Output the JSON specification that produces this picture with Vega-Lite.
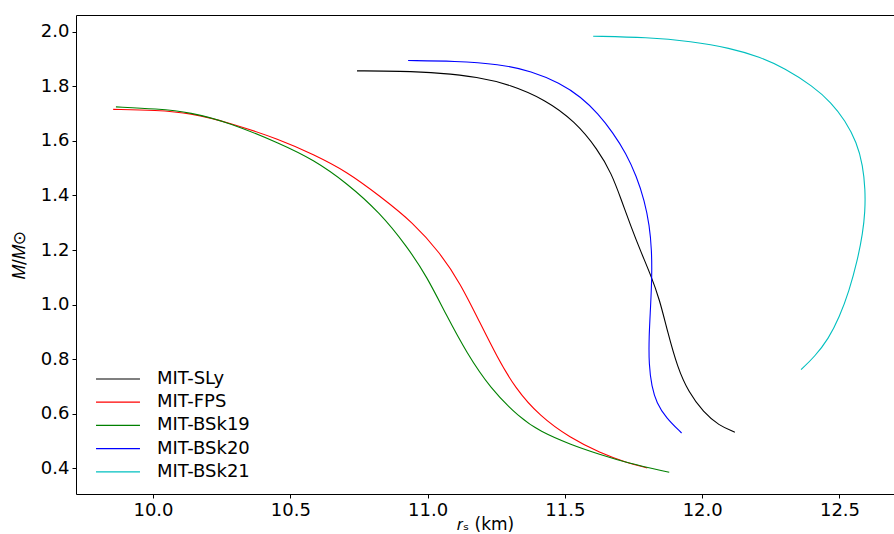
{
  "$schema": "https://vega.github.io/schema/vega-lite/v6.json",
  "width": 818,
  "height": 479,
  "autosize": "none",
  "padding": {"left": 76, "top": 15, "right": 0, "bottom": 40},
  "background": "white",
  "config": {
    "view": {"stroke": null},
    "font": "DejaVu Sans",
    "axis": {
      "grid": false,
      "domainColor": "#000000",
      "domainWidth": 1,
      "tickColor": "#000000",
      "tickSize": 4,
      "tickWidth": 1,
      "labelColor": "#000000",
      "labelFont": "DejaVu Sans",
      "labelFontSize": 18,
      "titleFont": "DejaVu Sans",
      "titleFontSize": 17,
      "titleFontWeight": "normal",
      "titleColor": "#000000"
    },
    "legend": {
      "labelFont": "DejaVu Sans",
      "labelFontSize": 18,
      "labelColor": "#000000"
    }
  },
  "resolve": {"axis": {"x": "independent"}},
  "data": {
    "values": [
      {"eos": "MIT-SLy", "i": 0, "r": 10.743, "M": 1.856},
      {"eos": "MIT-SLy", "i": 1, "r": 10.900, "M": 1.855},
      {"eos": "MIT-SLy", "i": 2, "r": 11.050, "M": 1.848},
      {"eos": "MIT-SLy", "i": 3, "r": 11.180, "M": 1.834},
      {"eos": "MIT-SLy", "i": 4, "r": 11.300, "M": 1.806},
      {"eos": "MIT-SLy", "i": 5, "r": 11.428, "M": 1.751},
      {"eos": "MIT-SLy", "i": 6, "r": 11.537, "M": 1.671},
      {"eos": "MIT-SLy", "i": 7, "r": 11.620, "M": 1.568},
      {"eos": "MIT-SLy", "i": 8, "r": 11.670, "M": 1.480},
      {"eos": "MIT-SLy", "i": 9, "r": 11.705, "M": 1.385},
      {"eos": "MIT-SLy", "i": 10, "r": 11.741, "M": 1.285},
      {"eos": "MIT-SLy", "i": 11, "r": 11.776, "M": 1.195},
      {"eos": "MIT-SLy", "i": 12, "r": 11.812, "M": 1.110},
      {"eos": "MIT-SLy", "i": 13, "r": 11.845, "M": 1.019},
      {"eos": "MIT-SLy", "i": 14, "r": 11.874, "M": 0.900},
      {"eos": "MIT-SLy", "i": 15, "r": 11.910, "M": 0.770},
      {"eos": "MIT-SLy", "i": 16, "r": 11.950, "M": 0.680},
      {"eos": "MIT-SLy", "i": 17, "r": 12.005, "M": 0.605},
      {"eos": "MIT-SLy", "i": 18, "r": 12.060, "M": 0.558},
      {"eos": "MIT-SLy", "i": 19, "r": 12.119, "M": 0.533},

      {"eos": "MIT-FPS", "i": 0, "r": 9.855, "M": 1.715},
      {"eos": "MIT-FPS", "i": 1, "r": 10.013, "M": 1.712},
      {"eos": "MIT-FPS", "i": 2, "r": 10.135, "M": 1.702},
      {"eos": "MIT-FPS", "i": 3, "r": 10.280, "M": 1.666},
      {"eos": "MIT-FPS", "i": 4, "r": 10.4625, "M": 1.6045},
      {"eos": "MIT-FPS", "i": 5, "r": 10.584, "M": 1.550},
      {"eos": "MIT-FPS", "i": 6, "r": 10.705, "M": 1.488},
      {"eos": "MIT-FPS", "i": 7, "r": 10.827, "M": 1.397},
      {"eos": "MIT-FPS", "i": 8, "r": 10.948, "M": 1.300},
      {"eos": "MIT-FPS", "i": 9, "r": 11.045, "M": 1.190},
      {"eos": "MIT-FPS", "i": 10, "r": 11.118, "M": 1.080},
      {"eos": "MIT-FPS", "i": 11, "r": 11.191, "M": 0.933},
      {"eos": "MIT-FPS", "i": 12, "r": 11.252, "M": 0.811},
      {"eos": "MIT-FPS", "i": 13, "r": 11.318, "M": 0.695},
      {"eos": "MIT-FPS", "i": 14, "r": 11.409, "M": 0.591},
      {"eos": "MIT-FPS", "i": 15, "r": 11.519, "M": 0.512},
      {"eos": "MIT-FPS", "i": 16, "r": 11.628, "M": 0.457},
      {"eos": "MIT-FPS", "i": 17, "r": 11.725, "M": 0.421},
      {"eos": "MIT-FPS", "i": 18, "r": 11.800, "M": 0.402},

      {"eos": "MIT-BSk19", "i": 0, "r": 9.865, "M": 1.724},
      {"eos": "MIT-BSk19", "i": 1, "r": 10.013, "M": 1.717},
      {"eos": "MIT-BSk19", "i": 2, "r": 10.135, "M": 1.705},
      {"eos": "MIT-BSk19", "i": 3, "r": 10.280, "M": 1.666},
      {"eos": "MIT-BSk19", "i": 4, "r": 10.4625, "M": 1.590},
      {"eos": "MIT-BSk19", "i": 5, "r": 10.584, "M": 1.531},
      {"eos": "MIT-BSk19", "i": 6, "r": 10.705, "M": 1.446},
      {"eos": "MIT-BSk19", "i": 7, "r": 10.827, "M": 1.336},
      {"eos": "MIT-BSk19", "i": 8, "r": 10.924, "M": 1.214},
      {"eos": "MIT-BSk19", "i": 9, "r": 10.997, "M": 1.104},
      {"eos": "MIT-BSk19", "i": 10, "r": 11.070, "M": 0.958},
      {"eos": "MIT-BSk19", "i": 11, "r": 11.142, "M": 0.824},
      {"eos": "MIT-BSk19", "i": 12, "r": 11.227, "M": 0.695},
      {"eos": "MIT-BSk19", "i": 13, "r": 11.336, "M": 0.585},
      {"eos": "MIT-BSk19", "i": 14, "r": 11.409, "M": 0.536},
      {"eos": "MIT-BSk19", "i": 15, "r": 11.519, "M": 0.488},
      {"eos": "MIT-BSk19", "i": 16, "r": 11.628, "M": 0.451},
      {"eos": "MIT-BSk19", "i": 17, "r": 11.725, "M": 0.421},
      {"eos": "MIT-BSk19", "i": 18, "r": 11.880, "M": 0.386},

      {"eos": "MIT-BSk20", "i": 0, "r": 10.929, "M": 1.894},
      {"eos": "MIT-BSk20", "i": 1, "r": 11.100, "M": 1.892},
      {"eos": "MIT-BSk20", "i": 2, "r": 11.260, "M": 1.881},
      {"eos": "MIT-BSk20", "i": 3, "r": 11.380, "M": 1.855},
      {"eos": "MIT-BSk20", "i": 4, "r": 11.480, "M": 1.812},
      {"eos": "MIT-BSk20", "i": 5, "r": 11.560, "M": 1.760},
      {"eos": "MIT-BSk20", "i": 6, "r": 11.620, "M": 1.700},
      {"eos": "MIT-BSk20", "i": 7, "r": 11.675, "M": 1.630},
      {"eos": "MIT-BSk20", "i": 8, "r": 11.722, "M": 1.555},
      {"eos": "MIT-BSk20", "i": 9, "r": 11.761, "M": 1.470},
      {"eos": "MIT-BSk20", "i": 10, "r": 11.790, "M": 1.380},
      {"eos": "MIT-BSk20", "i": 11, "r": 11.808, "M": 1.290},
      {"eos": "MIT-BSk20", "i": 12, "r": 11.816, "M": 1.200},
      {"eos": "MIT-BSk20", "i": 13, "r": 11.817, "M": 1.104},
      {"eos": "MIT-BSk20", "i": 14, "r": 11.812, "M": 0.990},
      {"eos": "MIT-BSk20", "i": 15, "r": 11.806, "M": 0.880},
      {"eos": "MIT-BSk20", "i": 16, "r": 11.806, "M": 0.780},
      {"eos": "MIT-BSk20", "i": 17, "r": 11.816, "M": 0.700},
      {"eos": "MIT-BSk20", "i": 18, "r": 11.834, "M": 0.640},
      {"eos": "MIT-BSk20", "i": 19, "r": 11.868, "M": 0.586},
      {"eos": "MIT-BSk20", "i": 20, "r": 11.925, "M": 0.530},

      {"eos": "MIT-BSk21", "i": 0, "r": 11.603, "M": 1.983},
      {"eos": "MIT-BSk21", "i": 1, "r": 11.800, "M": 1.979},
      {"eos": "MIT-BSk21", "i": 2, "r": 11.960, "M": 1.964},
      {"eos": "MIT-BSk21", "i": 3, "r": 12.101, "M": 1.940},
      {"eos": "MIT-BSk21", "i": 4, "r": 12.210, "M": 1.907},
      {"eos": "MIT-BSk21", "i": 5, "r": 12.300, "M": 1.866},
      {"eos": "MIT-BSk21", "i": 6, "r": 12.403, "M": 1.800},
      {"eos": "MIT-BSk21", "i": 7, "r": 12.470, "M": 1.740},
      {"eos": "MIT-BSk21", "i": 8, "r": 12.520, "M": 1.675},
      {"eos": "MIT-BSk21", "i": 9, "r": 12.563, "M": 1.594},
      {"eos": "MIT-BSk21", "i": 10, "r": 12.585, "M": 1.510},
      {"eos": "MIT-BSk21", "i": 11, "r": 12.594, "M": 1.420},
      {"eos": "MIT-BSk21", "i": 12, "r": 12.593, "M": 1.340},
      {"eos": "MIT-BSk21", "i": 13, "r": 12.585, "M": 1.264},
      {"eos": "MIT-BSk21", "i": 14, "r": 12.565, "M": 1.160},
      {"eos": "MIT-BSk21", "i": 15, "r": 12.535, "M": 1.050},
      {"eos": "MIT-BSk21", "i": 16, "r": 12.500, "M": 0.955},
      {"eos": "MIT-BSk21", "i": 17, "r": 12.460, "M": 0.875},
      {"eos": "MIT-BSk21", "i": 18, "r": 12.410, "M": 0.810},
      {"eos": "MIT-BSk21", "i": 19, "r": 12.360, "M": 0.762}
    ]
  },
  "layer": [
    {
      "mark": {"type": "line", "strokeWidth": 1.1, "interpolate": "basis", "clip": true},
      "encoding": {
        "x": {
          "field": "r", "type": "quantitative",
          "scale": {"domain": [9.7196, 12.6985], "nice": false, "zero": false},
          "axis": {"values": [10.0, 10.5, 11.0, 11.5, 12.0, 12.5], "format": ".1f", "labelPadding": 3, "title": "𝑟ₛ (km)", "titlePadding": -3}
        },
        "y": {
          "field": "M", "type": "quantitative",
          "scale": {"domain": [0.3066, 2.0606], "nice": false, "zero": false},
          "axis": {"values": [0.4, 0.6, 0.8, 1.0, 1.2, 1.4, 1.6, 1.8, 2.0], "format": ".1f", "labelPadding": 3, "title": "𝑀/𝑀⊙", "titlePadding": 12}
        },
        "color": {
          "field": "eos", "type": "nominal",
          "scale": {
            "domain": ["MIT-SLy", "MIT-FPS", "MIT-BSk19", "MIT-BSk20", "MIT-BSk21"],
            "range": ["#000000", "#ff0000", "#008000", "#0000ff", "#00bfbf"]
          },
          "legend": {
            "title": null,
            "orient": "none",
            "legendX": 33,
            "legendY": 355,
            "padding": 0,
            "symbolType": "M-3.14,0H3.14",
            "symbolSize": 196,
            "symbolStrokeWidth": 1.2,
            "labelOffset": 30,
            "rowPadding": 5.2
          }
        },
        "order": {"field": "i", "type": "quantitative"}
      }
    },
    {
      "mark": {"type": "rule", "opacity": 0},
      "encoding": {
        "x": {"field": "r", "type": "quantitative", "aggregate": "min",
          "axis": {"orient": "top", "labels": false, "ticks": false, "title": null}}
      }
    }
  ]
}
